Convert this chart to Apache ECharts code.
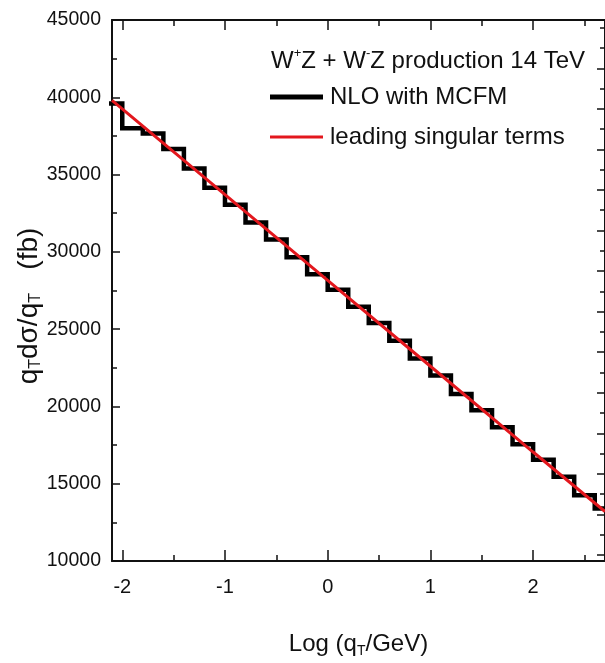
<!DOCTYPE html>
<html>
<head>
<meta charset="utf-8">
<script src="https://cdn.jsdelivr.net/npm/echarts@6/dist/echarts.min.js"></script>
<style>
  html, body { margin: 0; padding: 0; background: #fff; }
  #chart { width: 605px; height: 663px; }
</style>
</head>
<body>
<div id="chart"></div>
<script>
// ---- data ----
const binEdges = [-2.2, -2.0, -1.8, -1.6, -1.4, -1.2, -1.0, -0.8, -0.6, -0.4, -0.2, 0.0,
                  0.2, 0.4, 0.6, 0.8, 1.0, 1.2, 1.4, 1.6, 1.8, 2.0, 2.2, 2.4, 2.6, 2.8];
const binValues = [39600, 38000, 37650, 36650, 35400, 34150, 33050, 31900, 30800, 29650,
                   28550, 27550, 26450, 25400, 24250, 23100, 22000, 20800, 19750, 18650,
                   17550, 16550, 15450, 14250, 13400];
const singularX = [-2.1, -1, 0, 1, 2, 2.7];
const singularY = [39800, 33700, 28150, 22600, 17050, 13200];

const xMajorTicks = [-2, -1, 0, 1, 2];
const xMinorTicks = [-1.5, -0.5, 0.5, 1.5, 2.5];
const rightLongTicks = [0.15, 1.15, 2.15, 3.15, 4.15, 5.15, 6.15, 7.15, 8.15, 9.15, 10.15, 11.15, 12.15];
const rightShortTicks = [0.65, 1.65, 2.65, 3.65, 4.65, 5.65, 6.65, 7.65, 8.65, 9.65, 10.65, 11.65, 12.65, 13.15];

const seriesNames = ['NLO with MCFM', 'leading singular terms'];

// ---- build ----
const FONT = "'Liberation Sans', Arial, sans-serif";
const stepData = binEdges.map((e, i) => [e, binValues[Math.min(i, binValues.length - 1)]]);
const lineData = singularX.map((x, i) => [x, singularY[i]]);

const xBase = { type: 'value', min: -2.1, max: 2.7, splitLine: { show: false } };
const black = '#111';

const chart = echarts.init(document.getElementById('chart'), null, { renderer: 'canvas' });
chart.setOption({
  animation: false,
  backgroundColor: '#fff',
  grid: { left: 112, top: 20, width: 495, height: 543, containLabel: false },
  title: {
    left: 271, top: 47, padding: 0,
    text: '{a|W}{b|+}{a|Z + W}{b|-}{a|Z production 14 TeV}',
    textStyle: {
      fontWeight: 'normal',
      rich: {
        a: { fontSize: 24, fontFamily: FONT, fontWeight: 'normal', color: black, lineHeight: 28 },
        b: { fontSize: 13, fontFamily: FONT, fontWeight: 'normal', color: black, verticalAlign: 'top', lineHeight: 13 }
      }
    }
  },
  legend: [
    { data: [seriesNames[0]], left: 270, top: 85, padding: 0, icon: 'rect',
      itemWidth: 53, itemHeight: 5,
      textStyle: { fontSize: 24, fontFamily: FONT, color: black, padding: [0, 0, 0, 2] } },
    { data: [seriesNames[1]], left: 270, top: 125, padding: 0, icon: 'rect',
      itemWidth: 53, itemHeight: 3,
      textStyle: { fontSize: 24, fontFamily: FONT, color: black, padding: [0, 0, 0, 2] } }
  ],
  xAxis: [
    Object.assign({}, xBase, {
      position: 'bottom',
      axisLine: { show: true, onZero: false, lineStyle: { color: black, width: 2 } },
      axisTick: { show: true, inside: true, length: 11, customValues: xMajorTicks, lineStyle: { color: black, width: 1.5 } },
      axisLabel: { show: true, customValues: xMajorTicks, margin: 16, fontSize: 20, fontFamily: FONT, color: black },
      name: '{a|Log (q}{s|T}{a|/GeV)}',
      nameLocation: 'middle', nameGap: 69,
      nameTextStyle: {
        rich: {
          a: { fontSize: 24, fontFamily: FONT, color: black, lineHeight: 28 },
          s: { fontSize: 14, fontFamily: FONT, color: black, verticalAlign: 'bottom', lineHeight: 14 }
        }
      }
    }),
    Object.assign({}, xBase, {
      position: 'bottom',
      axisLine: { show: false, onZero: false },
      axisTick: { show: true, inside: true, length: 6, customValues: xMinorTicks, lineStyle: { color: black, width: 1.5 } },
      axisLabel: { show: false }
    }),
    Object.assign({}, xBase, {
      position: 'top',
      axisLine: { show: true, onZero: false, lineStyle: { color: black, width: 2 } },
      axisTick: { show: true, inside: true, length: 10, customValues: xMajorTicks, lineStyle: { color: black, width: 1.5 } },
      axisLabel: { show: false }
    }),
    Object.assign({}, xBase, {
      position: 'top',
      axisLine: { show: false, onZero: false },
      axisTick: { show: true, inside: true, length: 6, customValues: xMinorTicks, lineStyle: { color: black, width: 1.5 } },
      axisLabel: { show: false }
    })
  ],
  yAxis: [
    {
      type: 'value', position: 'left', min: 10000, max: 45000, interval: 5000,
      splitLine: { show: false },
      axisLine: { show: true, onZero: false, lineStyle: { color: black, width: 2 } },
      axisTick: { show: true, inside: true, length: 8, lineStyle: { color: black, width: 1.5 } },
      minorTick: { show: true, splitNumber: 2, length: 5, lineStyle: { color: black, width: 1.5 } },
      axisLabel: { margin: 11, fontSize: 19.5, fontFamily: FONT, color: black, formatter: v => String(v) }
    },
    {
      type: 'value', position: 'right', min: 0, max: 13.34,
      splitLine: { show: false },
      axisLine: { show: true, onZero: false, lineStyle: { color: black, width: 2 } },
      axisTick: { show: true, inside: true, length: 8, customValues: rightLongTicks, lineStyle: { color: black, width: 1.5 } },
      axisLabel: { show: false }
    },
    {
      type: 'value', position: 'right', min: 0, max: 13.34,
      splitLine: { show: false },
      axisLine: { show: false, onZero: false },
      axisTick: { show: true, inside: true, length: 5, customValues: rightShortTicks, lineStyle: { color: black, width: 1.5 } },
      axisLabel: { show: false }
    }
  ],
  graphic: [
    {
      type: 'text', x: 29, y: 306, rotation: Math.PI / 2,
      style: {
        text: '{a|q}{s|T}{a|d\u03c3/q}{s|T}{a|   (fb)}',
        align: 'center', verticalAlign: 'middle',
        rich: {
          a: { fontSize: 28, fontFamily: FONT, fill: black, lineHeight: 30 },
          s: { fontSize: 16, fontFamily: FONT, fill: black, verticalAlign: 'bottom', lineHeight: 16 }
        }
      }
    }
  ],
  series: [
    {
      name: seriesNames[0], type: 'line', step: 'end', data: stepData,
      xAxisIndex: 0, yAxisIndex: 0,
      showSymbol: false, symbol: 'none',
      color: '#000',
      lineStyle: { color: '#000', width: 4.5, join: 'miter', cap: 'butt' },
      z: 2
    },
    {
      name: seriesNames[1], type: 'line', data: lineData,
      xAxisIndex: 0, yAxisIndex: 0,
      showSymbol: false, symbol: 'none',
      color: '#e3171d',
      lineStyle: { color: '#e3171d', width: 3 },
      z: 3
    }
  ]
});
</script>
</body>
</html>
